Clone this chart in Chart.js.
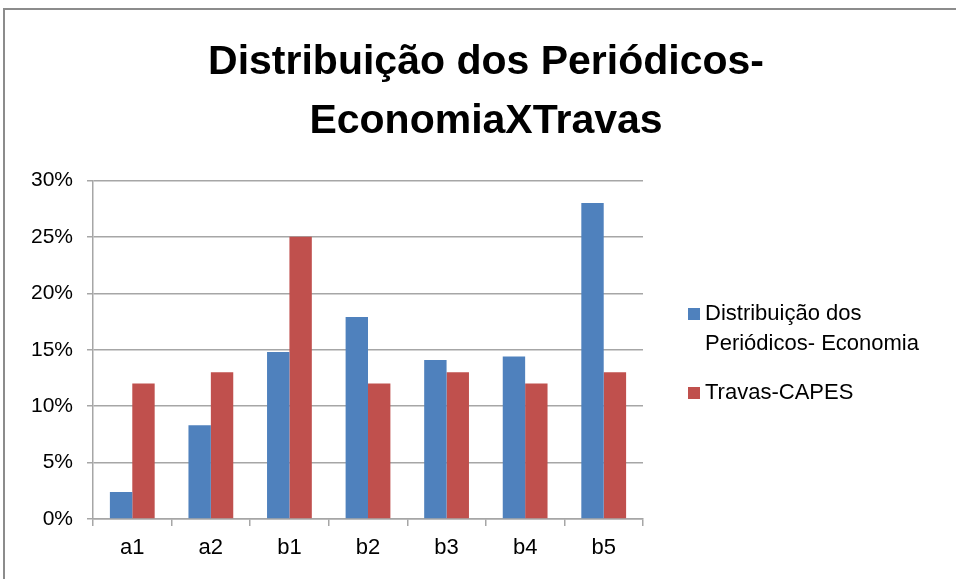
<!DOCTYPE html>
<html>
<head>
<meta charset="utf-8">
<script src="https://cdn.jsdelivr.net/npm/chart.js@4/dist/chart.umd.min.js"></script>
<style>
	html, body { margin: 0; padding: 0; background: #fff; }
	#wrap { position: relative; width: 956px; height: 579px; overflow: hidden; }
	#frame {
		position: absolute; left: 3px; top: 8px; width: 1000px; height: 600px;
		border-top: 2px solid #8c8c8c; border-left: 2px solid #8c8c8c;
		pointer-events: none;
	}
	#legend {
		position: absolute; left: 688px; top: 298px; margin: 0; padding: 0;
		list-style: none; font-family: "Liberation Sans", Arial, sans-serif;
		font-size: 22px; line-height: 30px; color: #000;
	}
	#legend li { position: relative; padding-left: 17px; margin-bottom: 19px; width: 260px; }
	#legend li span {
		position: absolute; left: 0; top: 10px; width: 12px; height: 12px;
	}
</style>
</head>
<body>
<div id="wrap">
	<canvas id="chart" width="956" height="579"></canvas>
	<div id="frame"></div>
	<ul id="legend"></ul>
</div>
<script>
const categories = ['a1', 'a2', 'b1', 'b2', 'b3', 'b4', 'b5'];
const distribuicao = [2.4, 8.3, 14.8, 17.9, 14.1, 14.4, 28.0];
const travas = [12, 13, 25, 12, 13, 12, 13];
const seriesNames = ['Distribuição dos Periódicos- Economia', 'Travas-CAPES'];
const legendLines = [['Distribuição dos', 'Periódicos- Economia'], ['Travas-CAPES']];
const titleLines = ['Distribuição dos Periódicos-', 'EconomiaXTravas'];
const colors = ['#4f81bd', '#c0504d'];

const font = 'Liberation Sans, Arial, sans-serif';

const chart = new Chart(document.getElementById('chart'), {
	type: 'bar',
	data: {
		labels: categories,
		datasets: [{
			label: seriesNames[0],
			data: distribuicao,
			backgroundColor: colors[0],
			barPercentage: 1,
			categoryPercentage: 0.57
		}, {
			label: seriesNames[1],
			data: travas,
			backgroundColor: colors[1],
			barPercentage: 1,
			categoryPercentage: 0.57
		}]
	},
	options: {
		responsive: false,
		animation: false,
		layout: {
			padding: { left: 16, right: 0, top: 0, bottom: 0 }
		},
		plugins: {
			legend: { display: false },
			tooltip: { enabled: false },
			title: {
				display: true,
				text: titleLines,
				color: '#000',
				font: { family: font, size: 41, weight: 'bold', lineHeight: 1.42 },
				padding: { top: 34, bottom: 30 }
			}
		},
		scales: {
			x: {
				offset: true,
				grid: {
					offset: true,
					drawOnChartArea: false,
					drawTicks: true,
					tickLength: 7,
					color: '#a6a6a6',
					lineWidth: 1.5
				},
				border: { color: '#a6a6a6', width: 1.5 },
				ticks: {
					color: '#000',
					font: { family: font, size: 22 },
					padding: 9
				},
				afterFit(scale) { scale.height = 60; }
			},
			y: {
				min: 0,
				max: 30,
				ticks: {
					stepSize: 5,
					color: '#000',
					font: { family: font, size: 21 },
					padding: 14,
					callback: v => v + '%'
				},
				grid: {
					color: '#a6a6a6',
					lineWidth: 1.5,
					tickLength: 6
				},
				border: { color: '#a6a6a6', width: 1.5 },
				afterFit(scale) { scale.width = 77; }
			},
			// empty right-hand axis reserves room for the legend without shifting the title
			side: {
				position: 'right',
				display: true,
				grid: { display: false, drawTicks: false },
				border: { display: false },
				ticks: { display: false },
				afterFit(scale) { scale.width = 313; }
			}
		}
	}
});

const legendEl = document.getElementById('legend');
legendLines.forEach((lines, i) => {
	const li = document.createElement('li');
	const box = document.createElement('span');
	box.style.background = colors[i];
	li.appendChild(box);
	li.appendChild(document.createTextNode(lines[0]));
	for (let k = 1; k < lines.length; k++) {
		li.appendChild(document.createElement('br'));
		li.appendChild(document.createTextNode(lines[k]));
	}
	legendEl.appendChild(li);
});
</script>
</body>
</html>
